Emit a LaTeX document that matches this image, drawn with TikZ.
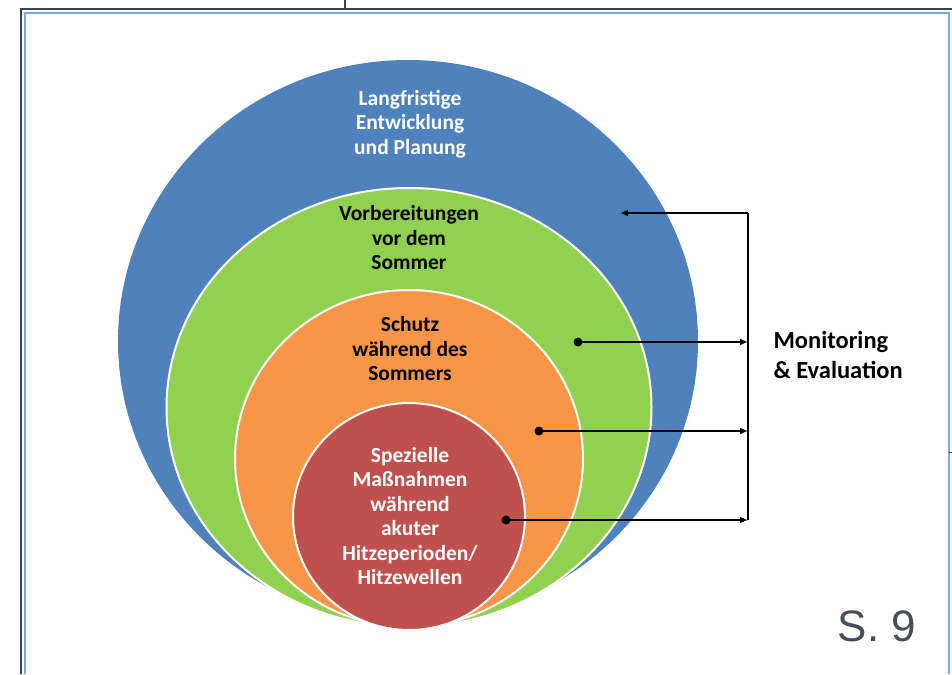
\documentclass[tikz,border=0pt]{standalone}
\usepackage{fontspec}
\setmainfont{Carlito}
\newfontfamily\pagefont{Liberation Sans}
\usetikzlibrary{arrows.meta}
\definecolor{ringblue}{HTML}{4F81BD}
\definecolor{ringgreen}{HTML}{92D050}
\definecolor{ringorange}{HTML}{F79646}
\definecolor{ringred}{HTML}{C0504D}
\definecolor{framegray}{HTML}{3C4350}
\definecolor{frameblue}{HTML}{7BA7DC}
\definecolor{pagegray}{HTML}{444E5C}
\tikzset{
	ringlabel/.style={align=center, font=\bfseries\fontsize{21.5}{24.5}\selectfont},
	monarrow/.style={-{Latex[length=8pt,width=7pt]}, line width=1.6pt},
}
\begin{document}
\begin{tikzpicture}[x=1pt,y=-1pt]
				\useasboundingbox (0,0) rectangle (952,674);
				% frame
				\draw[line width=2pt, framegray] (21,674) -- (21,9) -- (952,9);
				\draw[line width=1.5pt, framegray] (345,0) -- (345,9);
				\draw[line width=1.6pt, frameblue] (25,674) -- (25,13) -- (949,13) -- (949,674);
				\draw[line width=1pt, framegray] (949,452) -- (952,452);
				% rings
				\coordinate (C0) at (408,341);
				\coordinate (C1) at (409,407.5);
				\coordinate (C2) at (409,458.5);
				\coordinate (C3) at (409,516.5);
				\path[fill=ringblue] (C0) ellipse [x radius=290, y radius=281];
				\path[fill=ringgreen, draw=white, line width=2pt] (C1) ellipse [x radius=242.5, y radius=219.5];
				\path[fill=ringorange, draw=white, line width=2pt] (C2) ellipse [x radius=174, y radius=168.5];
				\path[fill=ringred, draw=white, line width=2pt] (C3) ellipse [x radius=116, y radius=113.5];
				% labels
				\node[ringlabel, text=white] (L0) at (410,124) {Langfristige\\Entwicklung\\und Planung};
				\node[ringlabel, text=black] (L1) at (409,238) {Vorbereitungen\\vor dem\\Sommer};
				\node[ringlabel, text=black] (L2) at (410,349) {Schutz\\während des\\Sommers};
				\node[ringlabel, text=white] (L3) at (410,516) {Spezielle\\Maßnahmen\\während\\akuter\\Hitzeperioden/\\Hitzewellen};
				% monitoring
				\coordinate (D0) at (620,213);
				\coordinate (D1) at (578,342);
				\coordinate (D2) at (539,431);
				\coordinate (D3) at (506,520);
				\coordinate (B0) at (748,213);
				\coordinate (B1) at (748,342);
				\coordinate (B2) at (748,431);
				\coordinate (B3) at (748,520);
				\fill (D1) circle (4.5pt);
				\fill (D2) circle (4.5pt);
				\fill (D3) circle (4.5pt);
				\draw[line width=1.6pt] (B0) -- (B3);
				\draw[monarrow] (B0) -- (D0);
				\draw[monarrow] (D1) -- (B1);
				\draw[monarrow] (D2) -- (B2);
				\draw[monarrow] (D3) -- (B3);
				\node[anchor=west, align=left, font=\bfseries\fontsize{24.5}{30}\selectfont] (M) at (770,355) {Monitoring\\\& Evaluation};
				\node[font=\pagefont\fontsize{44}{44}\selectfont, text=pagegray] (S) at (877,626) {S. 9};
\end{tikzpicture}
\end{document}
